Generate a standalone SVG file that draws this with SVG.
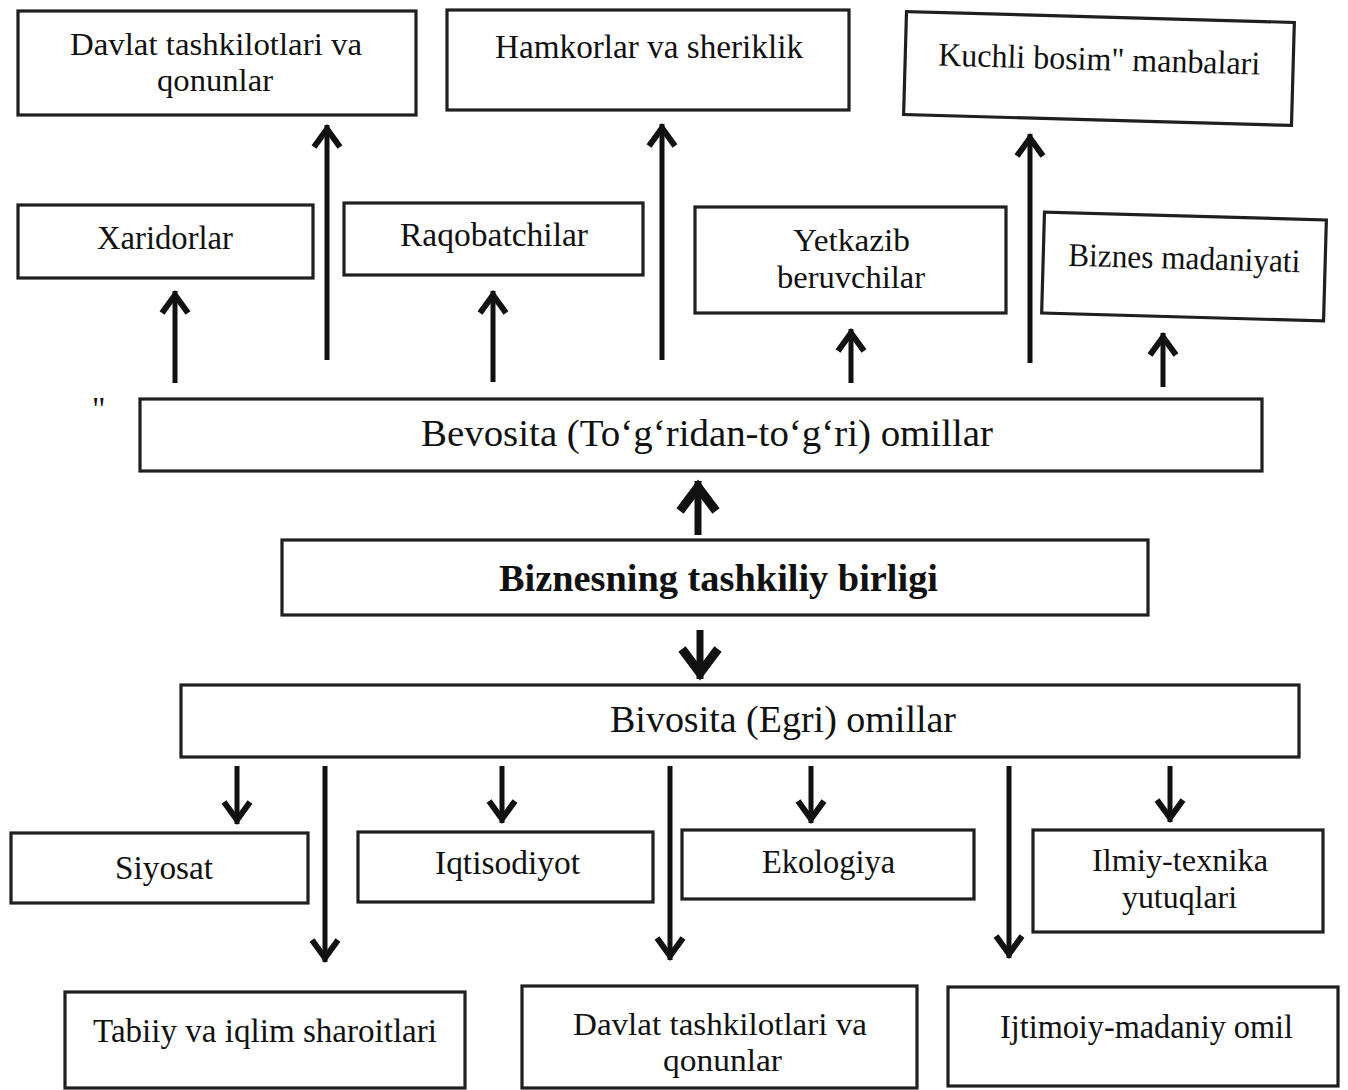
<svg xmlns="http://www.w3.org/2000/svg" width="1348" height="1090" viewBox="0 0 1348 1090">
  <defs>
    <style>
      .box { fill: #ffffff; stroke: #1f1f1f; stroke-width: 3.2; }
      .t { font-family: "Liberation Serif", "Times New Roman", serif; font-size: 33px; fill: #111111; }
      .t2 { font-family: "Liberation Serif", "Times New Roman", serif; font-size: 31px; fill: #111111; }
      .tl { font-family: "Liberation Serif", "Times New Roman", serif; font-size: 38px; fill: #111111; }
      .tb { font-family: "Liberation Serif", "Times New Roman", serif; font-size: 38px; font-weight: bold; fill: #111111; }
      .wire { stroke: #111111; stroke-width: 5; fill: none; }
      .wire-big { stroke: #111111; stroke-width: 7; fill: none; }
    </style>
    <marker id="head" viewBox="-30 -18 34 36" refX="0" refY="0" markerWidth="34" markerHeight="36" markerUnits="userSpaceOnUse" orient="auto" overflow="visible">
      <path d="M-22,-13 L-4,0 L-22,13" fill="none" stroke="#111111" stroke-width="6"/>
    </marker>
    <marker id="head-big" viewBox="-40 -24 44 48" refX="0" refY="0" markerWidth="44" markerHeight="48" markerUnits="userSpaceOnUse" orient="auto" overflow="visible">
      <path d="M-30,-18 L-6,0 L-30,18" fill="none" stroke="#111111" stroke-width="9"/>
    </marker>
  </defs>

  <rect x="0" y="0" width="1348" height="1090" fill="#ffffff"/>

  <!-- connectors -->
  <g id="connectors">
    <!-- upward: direct factors -->
    <path class="wire" d="M175,383 V291" marker-end="url(#head)"/>
    <path class="wire" d="M327,360 V125" marker-end="url(#head)"/>
    <path class="wire" d="M493,382 V291" marker-end="url(#head)"/>
    <path class="wire" d="M662,360 V124" marker-end="url(#head)"/>
    <path class="wire" d="M851,383 V329" marker-end="url(#head)"/>
    <path class="wire" d="M1030,363 V134" marker-end="url(#head)"/>
    <path class="wire" d="M1163,387 V333" marker-end="url(#head)"/>
    <!-- centre unit links -->
    <path class="wire-big" d="M698,535 V481" marker-end="url(#head-big)"/>
    <path class="wire-big" d="M700,630 V679" marker-end="url(#head-big)"/>
    <!-- downward: indirect factors -->
    <path class="wire" d="M237,766 V824" marker-end="url(#head)"/>
    <path class="wire" d="M325,766 V962" marker-end="url(#head)"/>
    <path class="wire" d="M502,766 V823" marker-end="url(#head)"/>
    <path class="wire" d="M670,766 V960" marker-end="url(#head)"/>
    <path class="wire" d="M811,766 V823" marker-end="url(#head)"/>
    <path class="wire" d="M1009,766 V958" marker-end="url(#head)"/>
    <path class="wire" d="M1170,766 V822" marker-end="url(#head)"/>
  </g>

  <!-- top row -->
  <g id="davlat-top">
    <rect class="box" x="18" y="11" width="398" height="104"/>
    <text class="t2" x="70" y="55" textLength="292" lengthAdjust="spacingAndGlyphs">Davlat tashkilotlari va</text>
    <text class="t2" x="157" y="91" textLength="116" lengthAdjust="spacingAndGlyphs">qonunlar</text>
  </g>
  <g id="hamkorlar">
    <rect class="box" x="447" y="10" width="402" height="100"/>
    <text class="t" x="495" y="58" textLength="308" lengthAdjust="spacingAndGlyphs">Hamkorlar va sheriklik</text>
  </g>
  <g id="kuchli-bosim" transform="rotate(1.6 1099 68)">
    <rect class="box" x="905" y="17" width="388" height="103"/>
    <text class="t" x="938" y="70" textLength="322" lengthAdjust="spacingAndGlyphs">Kuchli bosim" manbalari</text>
  </g>

  <!-- second row -->
  <g id="xaridorlar">
    <rect class="box" x="18" y="205" width="295" height="73"/>
    <text class="t" x="97" y="249" textLength="136" lengthAdjust="spacingAndGlyphs">Xaridorlar</text>
  </g>
  <g id="raqobatchilar">
    <rect class="box" x="344" y="203" width="299" height="72"/>
    <text class="t" x="400" y="246" textLength="188" lengthAdjust="spacingAndGlyphs">Raqobatchilar</text>
  </g>
  <g id="yetkazib">
    <rect class="box" x="695" y="207" width="311" height="106"/>
    <text class="t2" x="793" y="251" textLength="117" lengthAdjust="spacingAndGlyphs">Yetkazib</text>
    <text class="t2" x="777" y="288" textLength="148" lengthAdjust="spacingAndGlyphs">beruvchilar</text>
  </g>
  <g id="biznes-madaniyati" transform="rotate(1.6 1184 267)">
    <rect class="box" x="1043" y="216" width="282" height="101"/>
    <text class="t" x="1068" y="269" textLength="232" lengthAdjust="spacingAndGlyphs">Biznes madaniyati</text>
  </g>

  <!-- centre -->
  <text class="t" x="92" y="420" font-size="22">"</text>
  <g id="bevosita">
    <rect class="box" x="140" y="399" width="1122" height="72"/>
    <text class="tl" x="421" y="446" textLength="572" lengthAdjust="spacingAndGlyphs">Bevosita (To‘g‘ridan-to‘g‘ri) omillar</text>
  </g>
  <g id="biznes-birligi">
    <rect class="box" x="282" y="540" width="866" height="75"/>
    <text class="tb" x="499" y="591" textLength="439" lengthAdjust="spacingAndGlyphs">Biznesning tashkiliy birligi</text>
  </g>
  <g id="bivosita">
    <rect class="box" x="181" y="685" width="1118" height="72"/>
    <text class="tl" x="610" y="732" textLength="346" lengthAdjust="spacingAndGlyphs">Bivosita (Egri) omillar</text>
  </g>

  <!-- third row -->
  <g id="siyosat">
    <rect class="box" x="11" y="833" width="297" height="70"/>
    <text class="t" x="115" y="879" textLength="98" lengthAdjust="spacingAndGlyphs">Siyosat</text>
  </g>
  <g id="iqtisodiyot">
    <rect class="box" x="358" y="832" width="295" height="70"/>
    <text class="t" x="435" y="874" textLength="145" lengthAdjust="spacingAndGlyphs">Iqtisodiyot</text>
  </g>
  <g id="ekologiya">
    <rect class="box" x="682" y="830" width="292" height="69"/>
    <text class="t" x="762" y="873" textLength="133" lengthAdjust="spacingAndGlyphs">Ekologiya</text>
  </g>
  <g id="ilmiy-texnika">
    <rect class="box" x="1033" y="830" width="290" height="102"/>
    <text class="t2" x="1092" y="871" textLength="176" lengthAdjust="spacingAndGlyphs">Ilmiy-texnika</text>
    <text class="t2" x="1122" y="908" textLength="115" lengthAdjust="spacingAndGlyphs">yutuqlari</text>
  </g>

  <!-- bottom row -->
  <g id="tabiiy">
    <rect class="box" x="65" y="992" width="400" height="96"/>
    <text class="t" x="93" y="1042" textLength="344" lengthAdjust="spacingAndGlyphs">Tabiiy va iqlim sharoitlari</text>
  </g>
  <g id="davlat-bottom">
    <rect class="box" x="522" y="986" width="395" height="102"/>
    <text class="t2" x="573" y="1035" textLength="294" lengthAdjust="spacingAndGlyphs">Davlat tashkilotlari va</text>
    <text class="t2" x="663" y="1071" textLength="119" lengthAdjust="spacingAndGlyphs">qonunlar</text>
  </g>
  <g id="ijtimoiy">
    <rect class="box" x="948" y="987" width="390" height="99"/>
    <text class="t" x="1000" y="1038" textLength="293" lengthAdjust="spacingAndGlyphs">Ijtimoiy-madaniy omil</text>
  </g>
</svg>
